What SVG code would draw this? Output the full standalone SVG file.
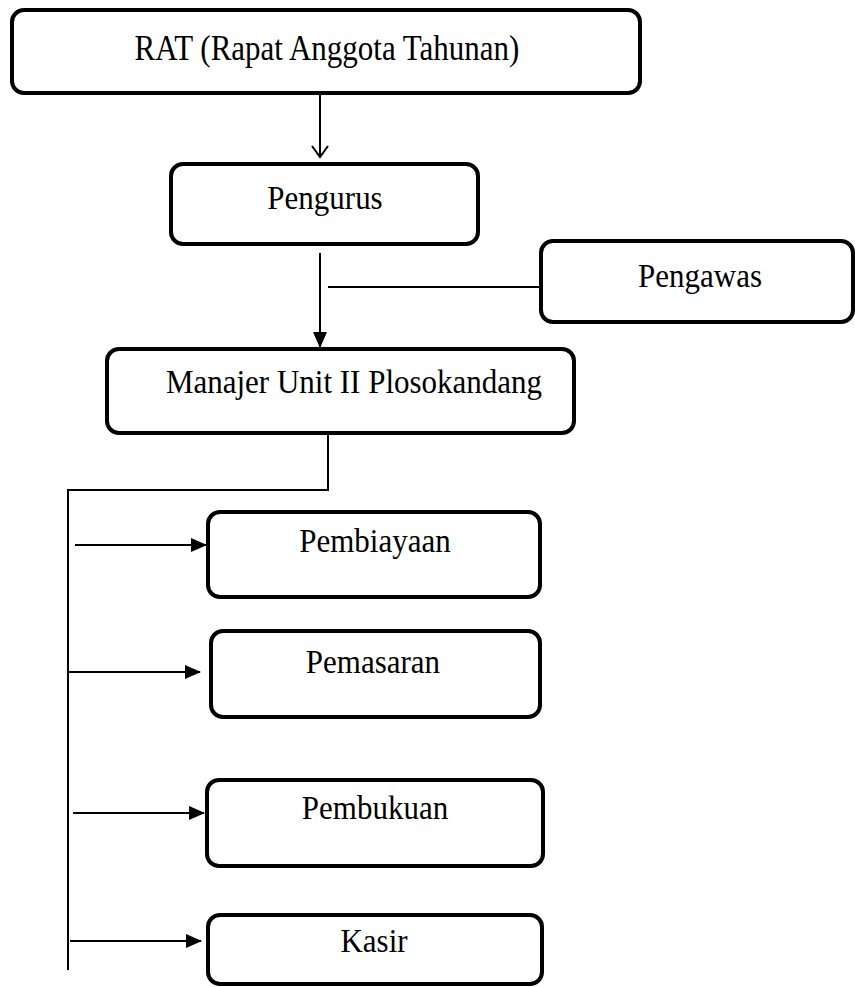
<svg xmlns="http://www.w3.org/2000/svg" width="855" height="987" viewBox="0 0 855 987">
<style>
.box{fill:#fff;stroke:#000;stroke-width:4}
.t{font-family:"Liberation Serif","Times New Roman",serif;font-size:31px;fill:#000;text-anchor:middle}
.c{stroke:#000;stroke-width:2;fill:none}
</style>
<defs>
<marker id="open" markerWidth="14" markerHeight="18" refX="12" refY="9" orient="auto" markerUnits="userSpaceOnUse">
<path d="M1,1 L12,9 L1,17" fill="none" stroke="#000" stroke-width="2"/>
</marker>
<marker id="fill" markerWidth="16" markerHeight="14" refX="15" refY="7" orient="auto" markerUnits="userSpaceOnUse">
<path d="M0,0 L16,7 L0,14 Z" fill="#000"/>
</marker>
</defs>
<g id="connectors">
<line class="c" x1="320" y1="94" x2="320" y2="157" marker-end="url(#open)"/>
<line class="c" x1="320" y1="253" x2="320" y2="347" marker-end="url(#fill)"/>
<line class="c" x1="328" y1="287" x2="540" y2="287"/>
<polyline class="c" points="328,434 328,490 68,490 68,970"/>
<line class="c" x1="75" y1="545" x2="206" y2="545" marker-end="url(#fill)"/>
<line class="c" x1="68" y1="672" x2="200" y2="672" marker-end="url(#fill)"/>
<line class="c" x1="73" y1="813" x2="204" y2="813" marker-end="url(#fill)"/>
<line class="c" x1="70" y1="941" x2="201" y2="941" marker-end="url(#fill)"/>
</g>
<g id="rat"><rect class="box" x="12" y="10" width="628" height="83" rx="12"/><text class="t" transform="translate(327,60) scale(1,1.15)">RAT (Rapat Anggota Tahunan)</text></g>
<g id="pengurus"><rect class="box" x="171" y="164" width="307" height="80" rx="12"/><text class="t" transform="translate(325,209) scale(1,1.1)">Pengurus</text></g>
<g id="pengawas"><rect class="box" x="541" y="241" width="312" height="81" rx="12"/><text class="t" transform="translate(700,287) scale(1,1.1)">Pengawas</text></g>
<g id="manajer"><rect class="box" x="107" y="349" width="467" height="84" rx="12"/><text class="t" transform="translate(354,393) scale(1,1.1)">Manajer Unit II Plosokandang</text></g>
<g id="pembiayaan"><rect class="box" x="208" y="512" width="332" height="85" rx="12"/><text class="t" transform="translate(375,552) scale(1,1.1)">Pembiayaan</text></g>
<g id="pemasaran"><rect class="box" x="211" y="631" width="329" height="86" rx="12"/><text class="t" transform="translate(373,673) scale(1,1.1)">Pemasaran</text></g>
<g id="pembukuan"><rect class="box" x="207" y="780" width="336" height="86" rx="12"/><text class="t" transform="translate(375,819) scale(1,1.1)">Pembukuan</text></g>
<g id="kasir"><rect class="box" x="208" y="915" width="334" height="69" rx="12"/><text class="t" transform="translate(374,952) scale(1,1.1)">Kasir</text></g>
</svg>
